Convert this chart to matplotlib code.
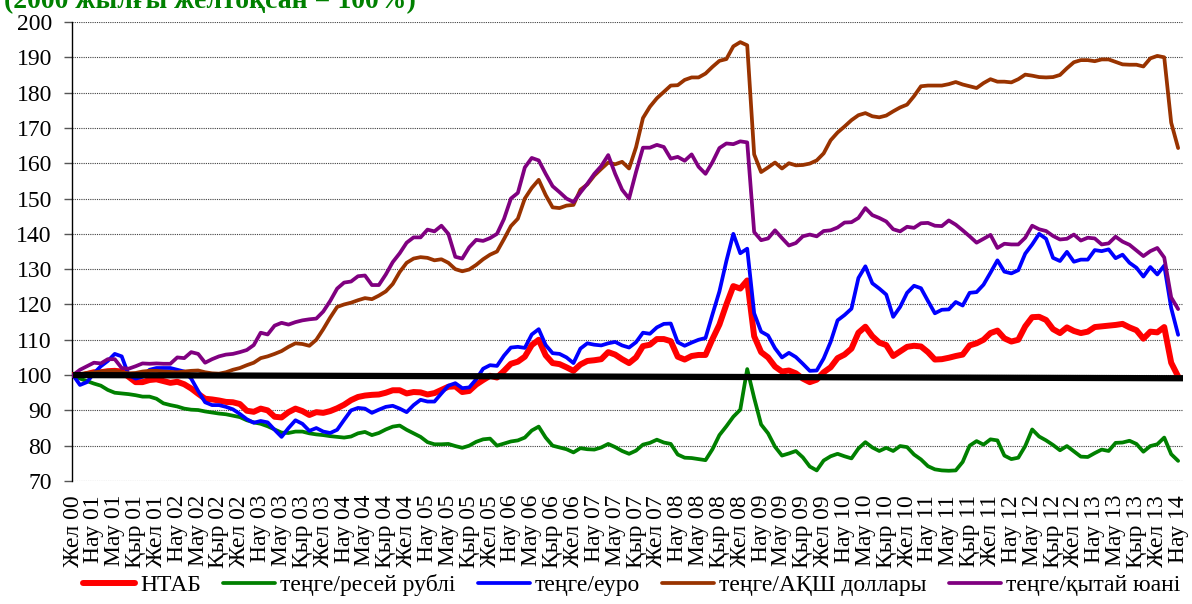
import matplotlib
matplotlib.use("Agg")
import matplotlib.pyplot as plt

plt.rcParams['font.family'] = ['Liberation Serif', 'DejaVu Serif']

# Monthly index values, Dec 2000 = 100 (Dec 2000 .. Mar 2014)
ntab = [100,
    99.7, 100.3, 100.8, 100.8, 101.1, 101.2, 101, 99.5, 98, 98, 98.6, 98.8,
    98.3, 97.8, 98.1, 97.4, 96.2, 94.7, 93.3, 93.1, 92.8, 92.4, 92.3, 91.8,
    89.9, 89.6, 90.5, 90, 88.2, 88, 89.5, 90.5, 89.8, 88.7, 89.5, 89.3,
    89.8, 90.6, 91.6, 92.9, 93.8, 94.2, 94.4, 94.5, 95, 95.7, 95.7, 94.8,
    95.2, 95.1, 94.5, 94.9, 95.8, 96.7, 96.8, 95.2, 95.5, 97.3, 98.6, 99.8,
    99.3, 101.2, 103.2, 103.8, 105.2, 108.5, 110, 105.6, 103.4, 103.1, 102.2, 101.2,
    103, 104, 104.2, 104.5, 106.5, 105.8, 104.5, 103.4, 105, 108.2, 108.6, 110.2,
    110.2, 109.6, 105.2, 104.4, 105.4, 105.7, 105.7, 110.2, 114.3, 120, 125.2, 124.5,
    126.8, 111, 106.5, 105, 102.4, 101, 101.3, 100.5, 99, 98, 98.7, 100.8,
    102.2, 104.8, 105.8, 107.5, 112, 113.7, 111, 109.2, 108.5, 105.4, 106.7, 108,
    108.3, 108.1, 106.5, 104.4, 104.5, 104.9, 105.4, 105.8, 108.4, 109, 110, 111.9,
    112.6, 110.4, 109.5, 110, 113.8, 116.4, 116.5, 115.6, 113, 111.9, 113.5, 112.5,
    111.9, 112.3, 113.6, 113.8, 114, 114.2, 114.5, 113.5, 112.7, 110.3, 112.3, 112.1,
    113.6, 103.5, 99.6]

rub = [100,
    99, 98.3, 97.6, 97, 95.8, 95, 94.8, 94.6, 94.3, 93.9, 93.9, 93.3,
    92, 91.5, 91.1, 90.5, 90.2, 90.1, 89.7, 89.4, 89.1, 88.9, 88.5, 88.1,
    87.2, 86.6, 86.2, 85.5, 84.6, 83.7, 83.6, 84, 84, 83.5, 83.2, 83,
    82.7, 82.5, 82.3, 82.6, 83.5, 83.9, 83, 83.6, 84.6, 85.4, 85.7, 84.5,
    83.5, 82.5, 81, 80.4, 80.4, 80.5, 79.9, 79.4, 80, 81.1, 81.8, 82,
    80, 80.6, 81.2, 81.5, 82.3, 84.3, 85.4, 82.3, 80, 79.5, 79, 78.1,
    79.3, 79, 78.9, 79.5, 80.5, 79.6, 78.5, 77.7, 78.6, 80.3, 80.8, 81.7,
    80.9, 80.5, 77.5, 76.6, 76.5, 76.2, 75.9, 79, 83, 85.5, 88.2, 90.2,
    101.7, 93.5, 86, 83.5, 79.7, 77.2, 77.8, 78.5, 76.7, 74.1, 73, 75.8,
    77, 77.7, 77, 76.4, 79.2, 81, 79.5, 78.5, 79.4, 78.5, 79.9, 79.6,
    77.5, 76.1, 74.2, 73.3, 73, 72.9, 73, 75.4, 80, 81.3, 80.3, 81.8,
    81.5, 77.2, 76.2, 76.6, 79.9, 84.6, 82.6, 81.5, 80.2, 78.7, 79.9, 78.4,
    76.9, 76.8, 77.9, 78.9, 78.5, 80.8, 80.9, 81.4, 80.5, 78.3, 79.9, 80.4,
    82.3, 77.6, 75.7]

eur = [100,
    97.2, 98, 100.5, 102.5, 104, 106, 105.3, 100, 99, 99.5, 101.5, 102,
    102, 102, 101.5, 101, 99, 95.5, 92.3, 91.5, 91.5, 91, 90.3, 89,
    87.5, 86.5, 87, 86.6, 84.5, 82.5, 85, 87.2, 86.2, 84.2, 85, 84,
    83.6, 84.5, 87.3, 90, 90.7, 90.5, 89.3, 90.2, 91, 91.3, 90.5, 89.5,
    91.5, 93, 92.5, 92.5, 94.8, 97, 97.7, 96.3, 96.5, 98.8, 101.8, 102.8,
    102.6, 105.5, 107.8, 108, 107.7, 111.5, 113, 108.5, 106.2, 106, 105, 103.4,
    107.5, 109, 108.6, 108.4, 109, 109.4, 108.4, 107.8, 109.3, 112, 111.7, 113.5,
    114.5, 114.6, 109.3, 108.3, 109.2, 110, 110.5, 117.2, 123.7, 132.3, 140, 134.5,
    135.8, 117.5, 112.3, 111.2, 107.6, 105, 106.3, 105.1, 103.2, 101.2, 101.3, 104.7,
    109.4, 115.5, 117, 118.8, 127.5, 130.8, 126, 124.5, 122.8, 116.5, 119.3, 123.3,
    125.3, 124.6, 121, 117.5, 118.5, 118.6, 120.7, 119.7, 123.3, 123.5, 125.6, 129,
    132.5, 129.3, 128.8, 129.7, 134.4, 137, 140, 138.6, 133.2, 132.3, 134.9, 132.1,
    132.7, 132.7, 135.4, 135.1, 135.6, 133.1, 134.1, 131.8, 130.4, 127.9, 130.6, 128.5,
    131, 119, 111.4]

usd = [100,
    100.3, 100.6, 100.8, 101, 101.2, 101.2, 100.8, 100.5, 100.6, 101, 101.2, 101.2,
    101, 100.9, 100.8, 101, 101.2, 101.3, 100.8, 100.5, 100.4, 100.8, 101.5, 102,
    102.8, 103.5, 104.8, 105.3, 106, 106.8, 108, 109, 108.8, 108.3, 110, 113,
    116.3, 119.3, 120, 120.5, 121.2, 121.8, 121.5, 122.5, 123.7, 125.8, 129.2, 131.8,
    133, 133.4, 133.2, 132.5, 132.8, 131.8, 130, 129.4, 129.9, 131.2, 132.8, 134.1,
    135, 138.5, 142.2, 144.3, 150, 153, 155.3, 151, 147.5, 147.3, 148, 148.2,
    152.5, 154, 156.5, 158.4, 160.2, 159.7, 160.4, 158.5, 164.5, 172.8, 176, 178.4,
    180.2, 182, 182.1, 183.6, 184.3, 184.3, 185.4, 187.3, 189, 189.5, 193.1, 194.3,
    193.4, 162.5, 157.5, 158.8, 160.2, 158.5, 160, 159.4, 159.5, 159.9, 160.8, 162.8,
    166.5, 168.7, 170.4, 172.2, 173.6, 174.2, 173.3, 173, 173.5, 174.7, 175.8, 176.6,
    179, 181.8, 182, 182, 182, 182.4, 183, 182.3, 181.8, 181.3, 182.7, 183.8,
    183.1, 183.1, 182.9, 183.8, 185.1, 184.8, 184.4, 184.3, 184.4, 185, 186.9, 188.6,
    189.2, 189.2, 188.9, 189.4, 189.4, 188.7, 188, 187.9, 187.9, 187.4, 189.7, 190.4,
    190, 171.5, 164.3]

cny = [100,
    101.5, 102.5, 103.5, 103.3, 104.5, 104.5, 102, 101.8, 102.5, 103.3, 103.2, 103.3,
    103.2, 103.2, 105, 104.8, 106.5, 106, 103.5, 104.5, 105.3, 105.8, 106, 106.5,
    107.1, 108.5, 112, 111.5, 114, 114.8, 114.3, 115, 115.5, 115.8, 116, 118,
    121, 124.5, 126.2, 126.5, 128, 128.2, 125.5, 125.5, 128.5, 132, 134.5, 137.5,
    139, 139, 141.2, 140.7, 142.3, 140, 133.5, 133, 136.2, 138.3, 138, 138.8,
    140, 144.2, 150, 151.6, 158.8, 161.5, 160.8, 157, 153.5, 151.8, 150, 149,
    151.7, 154.2, 157, 159.2, 162.3, 157, 152.5, 150, 157.5, 164.4, 164.4, 165.2,
    164.6, 161.3, 161.8, 160.7, 162.5, 159, 157, 160.3, 164.3, 165.6, 165.4, 166.2,
    165.9, 140.5, 138.2, 138.7, 141, 138.8, 136.7, 137.4, 139.3, 139.8, 139.3, 140.8,
    141, 141.8, 143.2, 143.3, 144.5, 147.3, 145.3, 144.5, 143.5, 141.3, 140.7, 142,
    141.7, 143, 143.1, 142.3, 142.2, 143.8, 142.6, 141, 139.3, 137.5, 138.6, 139.7,
    136, 137.2, 137, 137, 138.9, 142.3, 141.3, 140.8, 139.4, 138.4, 138.6, 139.8,
    138.1, 138.9, 138.7, 137, 137.3, 139.2, 137.8, 136.9, 135.3, 133.7, 135.1, 136,
    133.3, 122, 118.7]

baseline = [100, 99.1]   # black reference line (start, end)

series_labels = ['НТАБ', 'теңге/ресей рублі', 'теңге/еуро',
                 'теңге/АҚШ доллары', 'теңге/қытай юані']
series_colors = ['#FF0000', '#008000', '#0000FF', '#993300', '#800080']
series_widths = [4.3, 2.7, 2.7, 2.7, 2.7]

quarter_names = {2: 'Нау', 5: 'Мау', 8: 'Қыр', 11: 'Жел'}
tick_pos = list(range(0, len(ntab), 3))
tick_labels = []
for p in tick_pos:
    m = (11 + p) % 12
    y = (11 + p) // 12
    tick_labels.append(f"{quarter_names[m]} {y:02d}")

W, H = 1192, 604
fig = plt.figure(figsize=(W / 100, H / 100), dpi=100)
ax = fig.add_axes([72 / W, 1 - 481 / H, (1183 - 72) / W, (481 - 22) / H])

xs = list(range(len(ntab)))
data = [ntab, rub, eur, usd, cny]
handles = []
for vals, lab, col, lw in zip(data, series_labels, series_colors, series_widths):
    ln, = ax.plot(xs, vals, color=col, lw=lw, label=lab, solid_joinstyle='round',
                  solid_capstyle='round', zorder=3)
    handles.append(ln)
ax.plot([0, len(ntab) - 1 + 0.7], baseline, color='black', lw=4.5, zorder=4,
        solid_capstyle='butt')

ax.set_xlim(-0.15, len(ntab) - 1 + 0.7)
ax.set_ylim(70, 200)
ax.set_yticks(range(70, 201, 10))
ax.yaxis.grid(True, linestyle=(0, (1, 1)), color='#404040', lw=0.8)
ax.set_axisbelow(True)
for s in ['top', 'right', 'bottom']:
    ax.spines[s].set_visible(False)
ax.spines['left'].set_color('black')
ax.spines['left'].set_linewidth(1.0)
ax.tick_params(axis='y', length=5.5, width=1, color='#555555', labelsize=17, pad=9)
ax.set_xticks(tick_pos)
ax.set_xticklabels(tick_labels, rotation=90, fontsize=17)
ax.tick_params(axis='x', length=0, pad=10)

fig.legend(handles, series_labels, loc='center', bbox_to_anchor=(0.530, 0.031),
           ncol=5, frameon=False, fontsize=17, handlelength=2.2,
           handletextpad=0.2, columnspacing=0.95, borderaxespad=0)

fig.text(0.003, 1 - 8 / H, '(2000 жылғы желтоқсан = 100%)', color='#008000',
         fontweight='bold', fontsize=20, va='baseline', ha='left')

fig.savefig('out.png', dpi=100)
